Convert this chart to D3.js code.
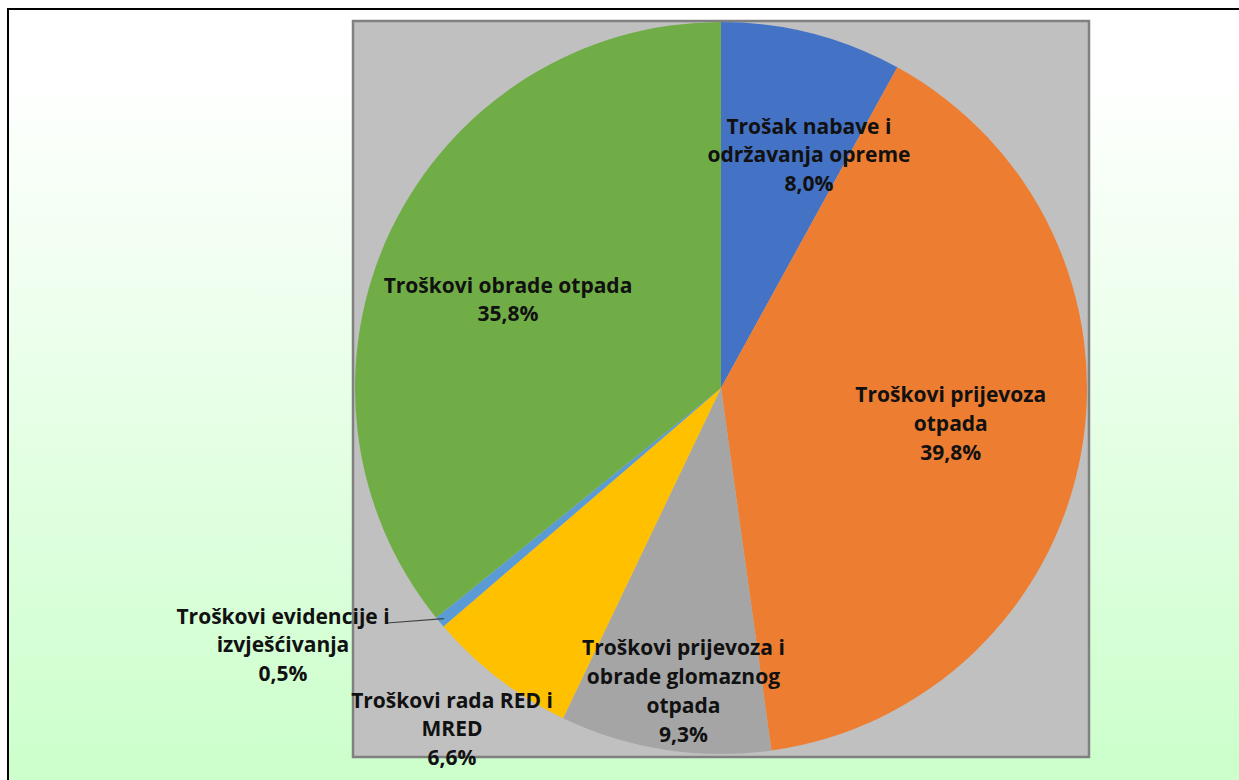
<!DOCTYPE html>
<html>
<head>
<meta charset="utf-8">
<script src="https://cdn.jsdelivr.net/npm/d3@7/dist/d3.min.js"></script>
<style>
  html, body { margin: 0; padding: 0; }
  body { width: 1239px; height: 780px; overflow: hidden; background: #fff; }
  svg { display: block; }
</style>
</head>
<body>
<svg id="chart" width="1239" height="780"></svg>
<script>
// ---- data ----
const categories = [
  "Trošak nabave i održavanja opreme",
  "Troškovi prijevoza otpada",
  "Troškovi prijevoza i obrade glomaznog otpada",
  "Troškovi rada RED i MRED",
  "Troškovi evidencije i izvješćivanja",
  "Troškovi obrade otpada"
];
const values = [8.0, 39.8, 9.3, 6.6, 0.5, 35.8];
const labelLines = [
  ["Trošak nabave i", "održavanja opreme"],
  ["Troškovi prijevoza", "otpada"],
  ["Troškovi prijevoza i", "obrade glomaznog", "otpada"],
  ["Troškovi rada RED i", "MRED"],
  ["Troškovi evidencije i", "izvješćivanja"],
  ["Troškovi obrade otpada"]
];
const colors = ["#4472C4", "#ED7D31", "#A5A5A5", "#FFC000", "#5B9BD5", "#70AD47"];

// ---- layout ----
const W = 1239, H = 780;
const plot = { x: 353, y: 21, w: 736, h: 736 };
const cx = 721, cy = 388, R = 366;
// label placement: radius factor along slice mid-angle, plus nudge (px)
const labelPlace = [
  { k: 0.68, dx: 26, dy: 8 },
  { k: 0.63, dx: 3, dy: -6 },
  { k: 0.83, dx: 9, dy: 3 },
  { k: 1.19, dx: 0, dy: 0 },
  { k: 1.00, dx: 0, dy: 0 },
  { k: 0.63, dx: -5, dy: 11 }
];
const lineH = 28.7;
const fontSize = 21;

const svg = d3.select("#chart");
const defs = svg.append("defs");
const grad = defs.append("linearGradient").attr("id", "bg")
  .attr("x1", 0).attr("y1", 0).attr("x2", 0).attr("y2", 1);
grad.append("stop").attr("offset", "0.08").attr("stop-color", "#ffffff");
grad.append("stop").attr("offset", "0.95").attr("stop-color", "#ccffcc");

svg.append("rect").attr("x", 0).attr("y", 0).attr("width", W).attr("height", H).attr("fill", "#ffffff");
svg.append("rect").attr("x", 8).attr("y", 9).attr("width", W + 20).attr("height", H + 20)
  .attr("fill", "url(#bg)").attr("stroke", "#000").attr("stroke-width", 2);

svg.append("rect").attr("x", plot.x).attr("y", plot.y).attr("width", plot.w).attr("height", plot.h)
  .attr("fill", "#c0c0c0").attr("stroke", "#808080").attr("stroke-width", 2.5);

const data = categories.map((c, i) => ({ name: c, value: values[i], lines: labelLines[i], color: colors[i], place: labelPlace[i] }));

const pie = d3.pie().value(d => d.value).sort(null);
const arcs = pie(data);
const arc = d3.arc().innerRadius(0).outerRadius(R);

const g = svg.append("g").attr("transform", `translate(${cx},${cy})`);
g.selectAll("path.slice").data(arcs).enter().append("path")
  .attr("class", "slice")
  .attr("d", arc)
  .attr("fill", d => d.data.color);

const fmt = v => d3.format(".1f")(v).replace(".", ",") + "%";

function labelPos(d) {
  const a = (d.startAngle + d.endAngle) / 2;
  const p = d.data.place;
  const r = R * p.k;
  return [r * Math.sin(a) + p.dx, -r * Math.cos(a) + p.dy];
}

arcs.forEach((d, i) => {
  let [lx, ly] = labelPos(d);
  if (i === 4) {
    const a = (d.startAngle + d.endAngle) / 2;
    const edge = [R * 0.985 * Math.sin(a), -R * 0.985 * Math.cos(a)];
    lx = 283 - cx; ly = 645 - cy;
    g.append("polyline")
      .attr("points", [[edge[0], edge[1]], [387 - cx, 623 - cy]].map(p => p.join(",")).join(" "))
      .attr("fill", "none").attr("stroke", "#404040").attr("stroke-width", 1.2);
  }
  if (i === 3) { lx = 452 - cx; ly = 729 - cy; }
  const lines = d.data.lines.concat([fmt(d.data.value)]);
  const n = lines.length;
  const t = g.append("text")
    .attr("text-anchor", "middle")
    .attr("font-family", "'Open Sans', Lato, sans-serif")
    .attr("font-weight", "bold")
    .attr("font-size", fontSize)
    .attr("fill", "#111");
  lines.forEach((s, j) => {
    t.append("tspan")
      .attr("x", lx)
      .attr("y", ly + (j - (n - 1) / 2) * lineH)
      .attr("dy", "0.35em")
      .text(s);
  });
});
</script>
</body>
</html>
